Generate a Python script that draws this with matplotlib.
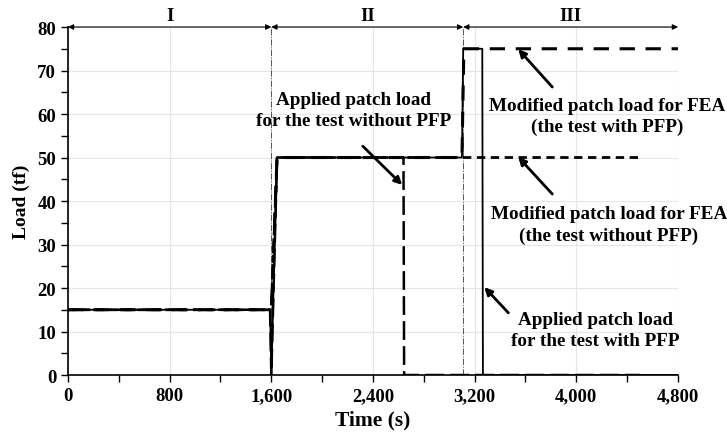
import matplotlib
matplotlib.use("Agg")
import matplotlib.pyplot as plt
from matplotlib.ticker import MultipleLocator, FuncFormatter

# load histories (time in s, load in tf)
app_no_pfp_t = [0, 1590, 1600, 1645, 2640, 2645, 4500]
app_no_pfp_v = [15, 15, 0, 50, 50, 0, 0]

fea_no_pfp_t = [0, 1600, 1645, 4500]
fea_no_pfp_v = [15, 15, 50, 50]

fea_pfp_t = [0, 1600, 1645, 3100, 3115, 4800]
fea_pfp_v = [15, 15, 50, 50, 75, 75]

app_pfp_t = [0, 1590, 1600, 1645, 3100, 3110, 3260, 3265, 4800]
app_pfp_v = [15, 15, 0, 50, 50, 75, 75, 0, 0]

phase_edges = [0, 1600, 3110, 4800]
phase_labels = ["I", "II", "III"]

plt.rcParams['font.family'] = ['Liberation Serif', 'DejaVu Serif']
plt.rcParams['font.weight'] = 'bold'

fig = plt.figure(figsize=(7.27, 4.35), dpi=100)
ax = fig.add_axes([0.0935, 0.1356, 0.8391, 0.8000])

# phase boundaries
for x in phase_edges[1:-1]:
    ax.axvline(x, color='#555555', lw=0.7, ls='-.', zorder=2)

ax.plot(app_pfp_t, app_pfp_v, color='black', lw=1.3, zorder=3)
ax.plot(fea_pfp_t, fea_pfp_v, color='black', lw=2.2, dashes=(5, 3.5), zorder=4)
ax.plot(fea_no_pfp_t, fea_no_pfp_v, color='black', lw=2.0, dashes=(3, 2), zorder=4)
ax.plot(app_no_pfp_t, app_no_pfp_v, color='black', lw=1.8, dashes=(7.5, 2.5), zorder=4)

# phase arrows and labels
for i, lab in enumerate(phase_labels):
    a, b = phase_edges[i], phase_edges[i + 1]
    ax.annotate('', xy=(a, 80), xytext=(b, 80),
                arrowprops=dict(arrowstyle='<|-|>', color='black', lw=0.8,
                                mutation_scale=8, shrinkA=0, shrinkB=0),
                annotation_clip=False)
    ax.text((a + b) / 2, 80.6, lab, ha='center', va='bottom',
            fontsize=13.5, fontweight='bold')

arrow = dict(arrowstyle='-|>', color='black', lw=2, mutation_scale=11,
             shrinkA=0, shrinkB=0)
fs = 13.8
ax.annotate('', xy=(2630, 43.7), xytext=(2320, 52.6), arrowprops=arrow)
ax.text(2245, 60.9, 'Applied patch load\nfor the test without PFP', ha='center',
        va='center', fontsize=fs, linespacing=1.3)

ax.annotate('', xy=(3543, 74.9), xytext=(3811, 66.2), arrowprops=arrow)
ax.text(4240, 59.6, 'Modified patch load for FEA\n(the test with PFP)', ha='center',
        va='center', fontsize=fs, linespacing=1.3, clip_on=False)

ax.annotate('', xy=(3543, 50.1), xytext=(3811, 41.6), arrowprops=arrow)
ax.text(4255, 34.6, 'Modified patch load for FEA\n(the test without PFP)', ha='center',
        va='center', fontsize=fs, linespacing=1.3, clip_on=False)

ax.annotate('', xy=(3276, 20.2), xytext=(3465, 14.3), arrowprops=arrow)
ax.text(4150, 10.3, 'Applied patch load\nfor the test with PFP', ha='center',
        va='center', fontsize=fs, linespacing=1.3)

ax.set_xlim(0, 4800)
ax.set_ylim(0, 80)
ax.xaxis.set_major_locator(MultipleLocator(800))
ax.xaxis.set_minor_locator(MultipleLocator(400))
ax.yaxis.set_major_locator(MultipleLocator(10))
ax.yaxis.set_minor_locator(MultipleLocator(5))
ax.xaxis.set_major_formatter(FuncFormatter(lambda v, p: f"{int(v):,}"))
ax.tick_params(which='both', direction='out', labelsize=13.5, width=1)
ax.tick_params(which='major', length=5)
ax.tick_params(which='minor', length=5)
ax.grid(True, which='major', color='#e6e6e6', lw=0.8)
ax.set_axisbelow(True)
for s in ['top', 'right']:
    ax.spines[s].set_visible(False)
for s in ['left', 'bottom']:
    ax.spines[s].set_linewidth(1.2)

ax.set_xlabel('Time (s)', fontsize=15.5, fontweight='bold', labelpad=4)
ax.set_ylabel('Load (tf)', fontsize=14, fontweight='bold', labelpad=5)

fig.savefig('out.png', dpi=100)
